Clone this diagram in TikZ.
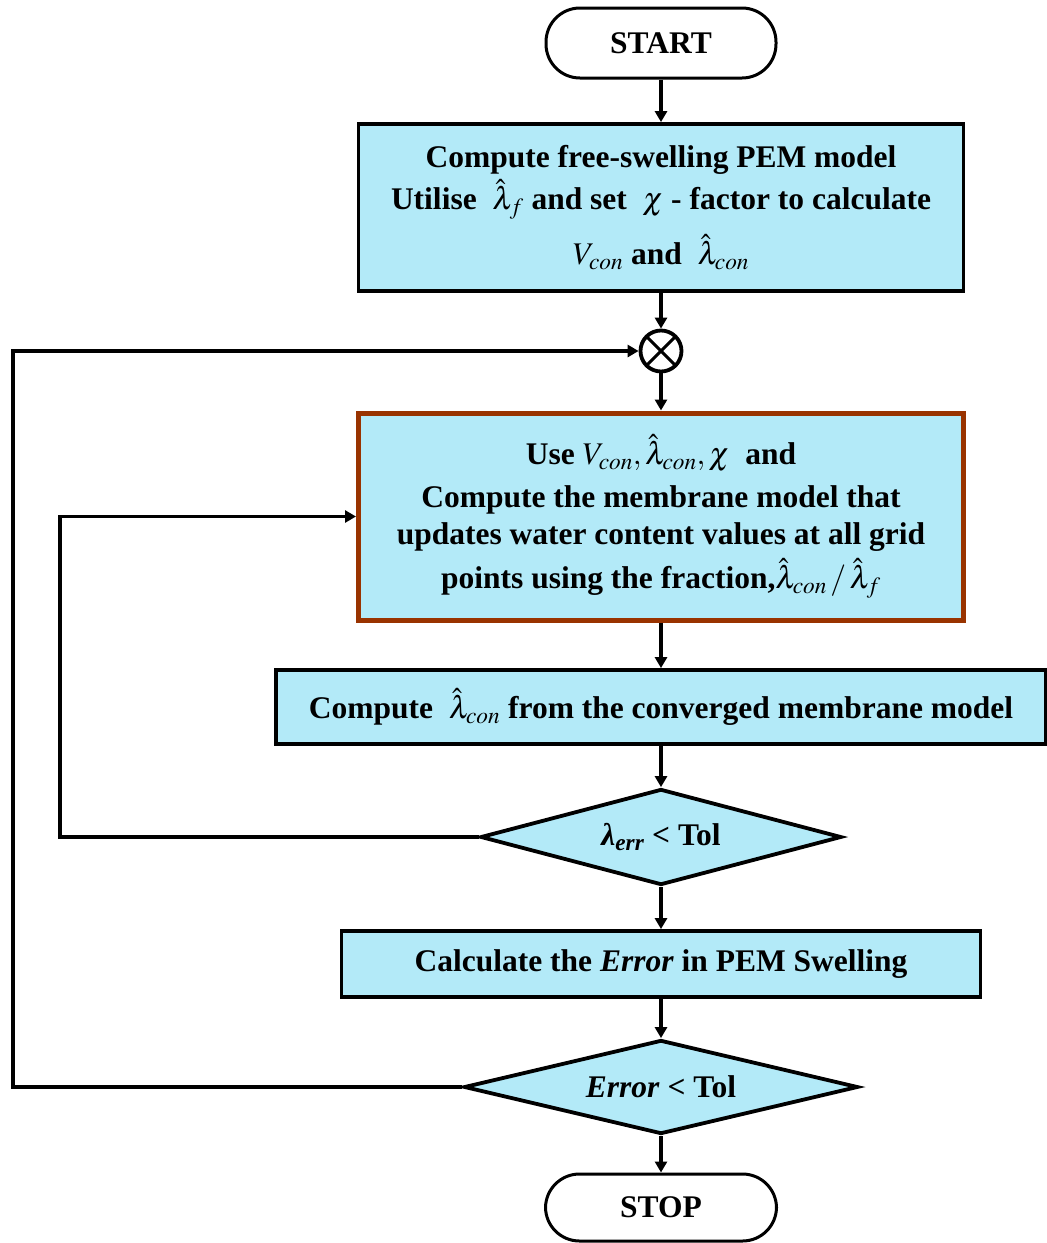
\documentclass[tikz,border=0pt]{standalone}
\usepackage{mathptmx}
\usepackage{fontspec}
\setmainfont{Liberation Serif}
\usetikzlibrary{shapes.geometric,arrows.meta}

\definecolor{boxfill}{HTML}{B3EAF8}
\definecolor{boxbrown}{HTML}{993300}

\begin{document}
\begin{tikzpicture}[x=1pt,y=-1pt,
    font=\fontsize{31.5}{37}\selectfont\bfseries,
    procbox/.style={draw,line width=3.8pt,fill=boxfill,inner sep=0pt,align=center},
    termbox/.style={draw,line width=3pt,fill=white,rounded corners=34pt,inner sep=0pt},
    testbox/.style={diamond,draw,line width=3.8pt,fill=boxfill,inner sep=0pt},
    flowline/.style={line width=3.8pt,-{Triangle[length=11pt,width=12pt]}}]
      \useasboundingbox (0,0) rectangle (1047,1243);

      \def\cx{661}

      % start and stop
      \path node (start) at (\cx,43)
            [termbox,minimum width=230pt,minimum height=70pt] {START};
      \path node (stop) at (\cx,1207.5)
            [termbox,minimum width=231pt,minimum height=67pt] {STOP};

      % free-swelling model
      \path node (free) at (\cx,207.5)
            [procbox,minimum width=605pt,minimum height=167pt]
            {Compute free-swelling PEM model\\[4pt]
             Utilise \ $\hat{\lambda}_f$ and set \ $\chi$ - factor to calculate\\[14pt]
             $V_{con}$ and \ $\hat{\lambda}_{con}$};

      % summing junction
      \path node (mix) at (\cx,351)
            [circle,draw,line width=3.8pt,fill=white,minimum size=41pt,inner sep=0pt,
             path picture={
               \draw[line width=3pt] (path picture bounding box.north west)
                     -- (path picture bounding box.south east);
               \draw[line width=3pt] (path picture bounding box.north east)
                     -- (path picture bounding box.south west);
             }] {};

      % membrane model
      \path node (memb) at (\cx,516.5)
            [procbox,draw=boxbrown,line width=5pt,minimum width=605pt,minimum height=207pt]
            {Use $V_{con},\hat{\lambda}_{con},\chi$ \ and\\[6pt]
             Compute the membrane model that\\
             updates water content values at all grid\\[6pt]
             points using the fraction,$\hat{\lambda}_{con}\,/\,\hat{\lambda}_f$};

      % converged value
      \path node (conv) at (\cx,707)
            [procbox,minimum width=770pt,minimum height=74pt]
            {Compute \ $\hat{\lambda}_{con}$ from the converged membrane model};

      % inner test
      \path node (tol1) at (\cx,837)
            [testbox,aspect=3.76,minimum width=361pt,minimum height=96pt]
            {\textit{λ\textsubscript{err}} < Tol};

      % error
      \path node (err) at (\cx,964)
            [procbox,minimum width=639pt,minimum height=66pt]
            {Calculate the \textit{Error} in PEM Swelling};

      % outer test
      \path node (tol2) at (\cx,1087)
            [testbox,aspect=4.19,minimum width=394pt,minimum height=94pt]
            {\textit{Error} < Tol};

      % main flow
      \draw[flowline] (start) -- (free);
      \draw[flowline] (free) -- (mix);
      \draw[flowline] (mix) -- (memb);
      \draw[flowline] (memb) -- (conv);
      \draw[flowline] (conv) -- (tol1);
      \draw[flowline] (tol1) -- (err);
      \draw[flowline] (err) -- (tol2);
      \draw[flowline] (tol2) -- (stop);

      % loops
      \coordinate (inner) at (60,837);
      \coordinate (outer) at (13,1087);
      \draw[flowline] (tol1.west) -- (inner) |- (memb.west);
      \draw[flowline] (tol2.west) -- (outer) |- (mix.west);
\end{tikzpicture}
\end{document}
